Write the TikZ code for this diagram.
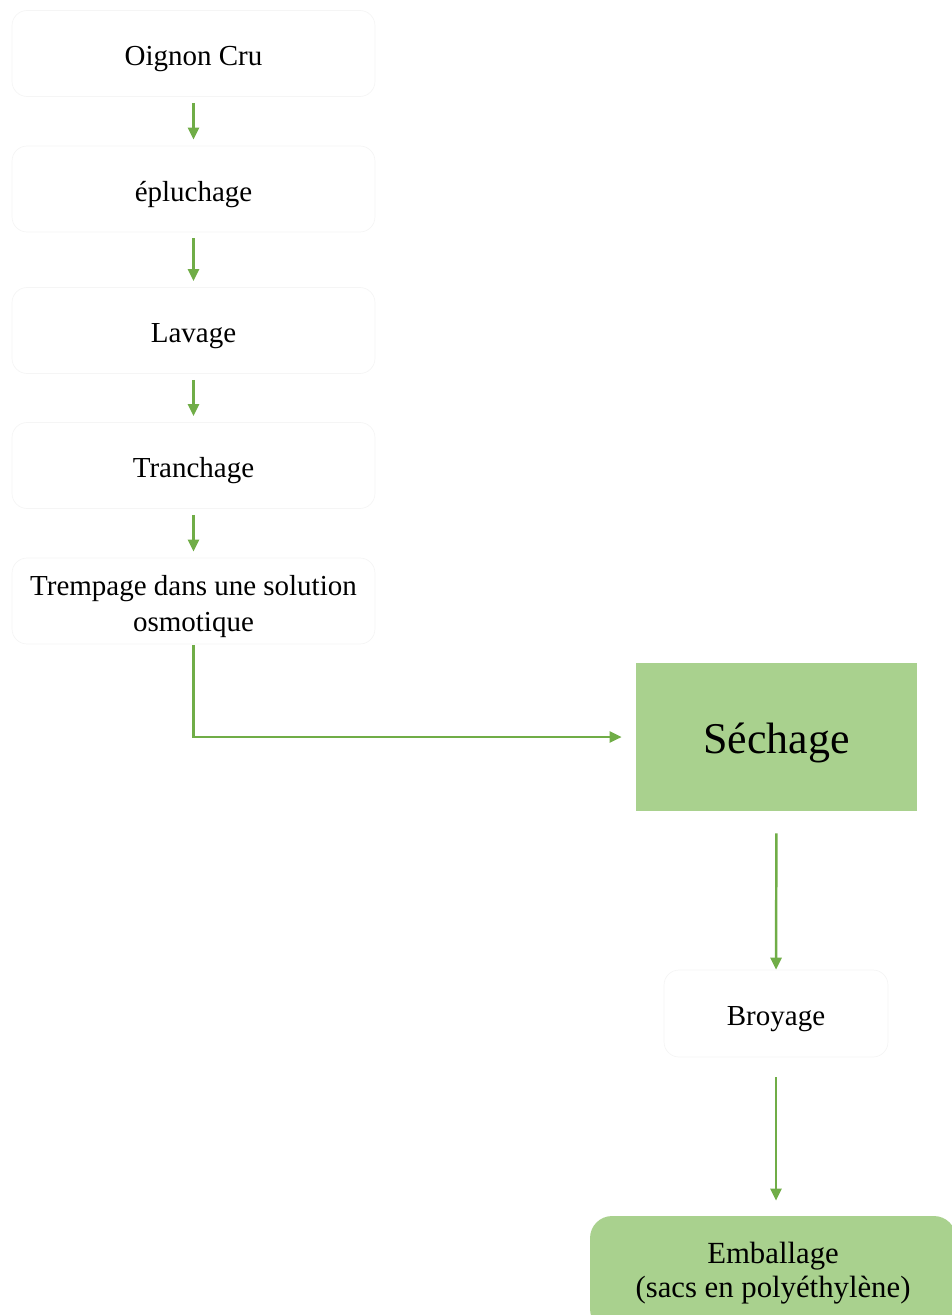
\documentclass[tikz,border=0pt]{standalone}
\usepackage{fontspec}
\setmainfont{Liberation Serif}
\usetikzlibrary{arrows.meta}
\definecolor{vertclair}{HTML}{A9D18E}
\definecolor{vertfleche}{HTML}{70AD47}
\definecolor{bordpale}{HTML}{F5F5F5}
\newcommand{\bas}[1]{\raisebox{-0.11cm}[\height][\depth]{#1}}
\tikzset{
  etape/.style={draw=bordpale, fill=white, rounded corners=0.3cm,
    minimum width=7.26cm, minimum height=1.72cm, inner sep=0pt,
    font=\fontsize{16.5}{20}\selectfont},
  fleche/.style={draw=vertfleche, line width=1.4pt,
    -{Triangle[length=0.24cm,width=0.22cm]}},
}
\begin{document}
\begin{tikzpicture}[x=0.02cm, y=-0.02cm]
  \useasboundingbox (0,0) rectangle (952,1315);
  \clip (0,0) rectangle (952,1315);
  \node[etape] (oignon) at (193.5,53.5) {\bas{Oignon Cru}};
  \node[etape] (epluchage) at (193.5,189) {\bas{épluchage}};
  \node[etape] (lavage) at (193.5,330.5) {\bas{Lavage}};
  \node[etape] (tranchage) at (193.5,465.5) {\bas{Tranchage}};
  \node[etape] (trempage) at (193.5,601)
    {\bas{\begin{tabular}{@{}c@{}}Trempage dans une solution\\osmotique\end{tabular}}};
  \node[fill=vertclair, minimum width=5.62cm, minimum height=2.96cm,
    font=\fontsize{25}{30}\selectfont] (sechage) at (776.5,737) {\bas{Séchage}};
  \node[etape, minimum width=4.48cm, minimum height=1.74cm] (broyage) at (776,1013.5) {\bas{Broyage}};
  \node[fill=vertclair, rounded corners=0.44cm, inner sep=0pt,
    minimum width=7.32cm, minimum height=2.3cm,
    font=\fontsize{17.5}{19.5}\selectfont] (emballage) at (773,1273.5)
    {\begin{tabular}{@{}c@{}}Emballage\\(sacs en polyéthylène)\end{tabular}};
  \draw[fleche, shorten <=0.12cm, shorten >=0.12cm] (oignon) -- (epluchage);
  \draw[fleche, shorten <=0.12cm, shorten >=0.12cm] (epluchage) -- (lavage);
  \draw[fleche, shorten <=0.12cm, shorten >=0.12cm] (lavage) -- (tranchage);
  \draw[fleche, shorten <=0.12cm, shorten >=0.12cm] (tranchage) -- (trempage);
  \draw[fleche, shorten <=0.02cm, shorten >=0.28cm] (trempage.south) |- (sechage.west);
  \draw[fleche, shorten <=0.44cm] (sechage.south) -- (broyage.north);
  \draw[fleche, shorten <=0.4cm, shorten >=0.3cm] (broyage.south) -- (broyage.south |- emballage.north);
\end{tikzpicture}
\end{document}
